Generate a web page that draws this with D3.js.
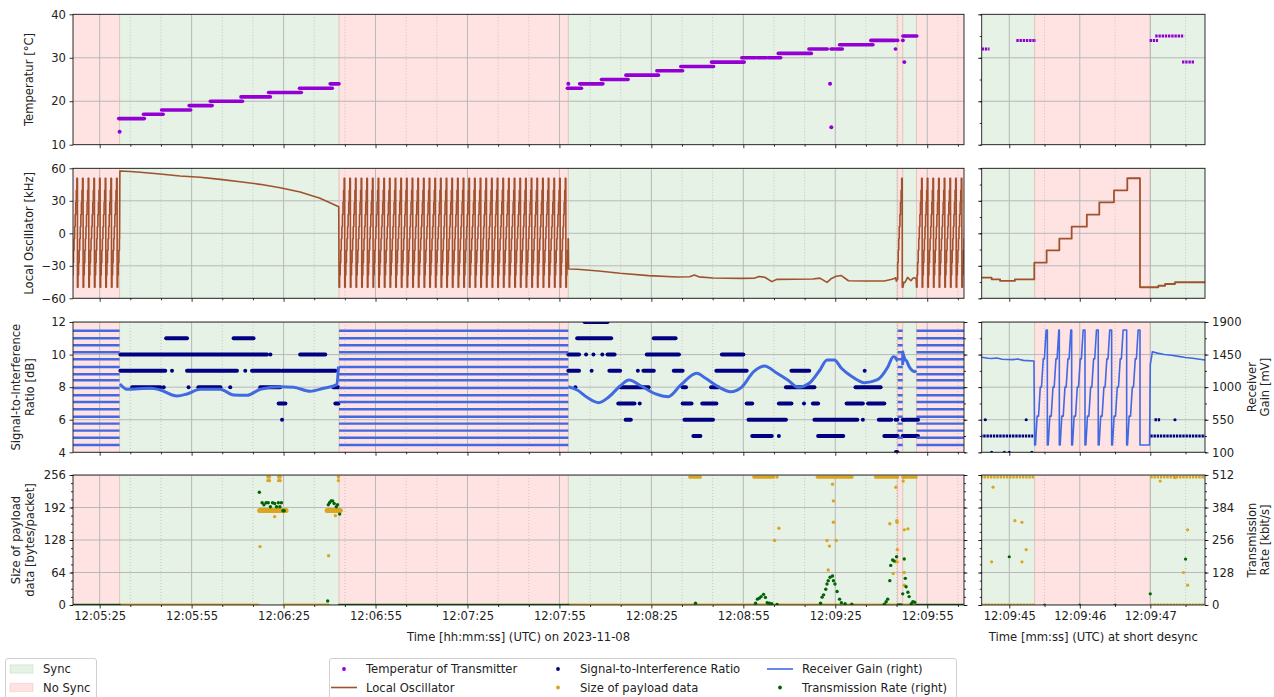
<!DOCTYPE html>
<html>
<head>
<meta charset="utf-8">
<script src="https://cdn.jsdelivr.net/npm/d3@7"></script>
<style>
  html, body { margin: 0; background: #fff; }
  svg { display: block; font-family: "DejaVu Sans", sans-serif; }
</style>
</head>
<body>
<svg id="chart" width="1274" height="697"></svg>
<script>
// ---------------------------------------------------------------------------
// Time base: main series are seconds after 12:05:00 UTC on 2023-11-08,
// zoom series are seconds after 12:09:45 UTC (285 s later).
// ---------------------------------------------------------------------------
const BASE_MS = Date.UTC(2023, 10, 8, 12, 5, 0);
const ZOOM_OFFSET = 285;

const mainRange = [16.3, 307.0];
const zoomRange = [-0.391, 2.776];
const mainTickLabels = ["12:05:25", "12:05:55", "12:06:25", "12:06:55", "12:07:25",
                        "12:07:55", "12:08:25", "12:08:55", "12:09:25", "12:09:55"];
const zoomTickLabels = ["12:09:45", "12:09:46", "12:09:47"];

const tempTicks = [10, 20, 30, 40];
const loTicks = [-60, -30, 0, 30, 60];
const sirTicks = [4, 6, 8, 10, 12];
const gainTicks = [100, 550, 1000, 1450, 1900];
const payloadTicks = [0, 64, 128, 192, 256];
const rateTicks = [0, 128, 256, 384, 512];

// Receiver synchronisation periods [start, end, synced]
const syncSpans = [
  [16.3, 31.5, false], [31.5, 103.1, true], [103.1, 177.9, false],
  [177.9, 285.36, true], [285.36, 287.0, false], [287.0, 291.5, true],
  [291.5, 307.0, false]
];

// Transmitter temperature: runs of identical readings [start, end, °C] and single readings
const tempRuns = [
  [31.2, 39.6, 16], [39.3, 45.7, 17], [45.2, 54.7, 18], [54.2, 61.7, 19], [61.1, 71.6, 20],
  [71.1, 80.7, 21], [80.1, 90.8, 22], [90.2, 100.9, 23], [100.2, 103.1, 24],
  [177.6, 182.2, 23], [181.6, 189.2, 24], [188.7, 197.4, 25], [196.7, 207.3, 26],
  [206.8, 215.2, 27], [214.6, 225.3, 28], [224.6, 235.3, 29],
  [234.5, 239.0, 30], [239.6, 242.5, 30], [243.1, 247.2, 30],
  [246.4, 257.2, 31], [256.4, 262.4, 32], [263.6, 264.6, 32], [265.3, 267.3, 32],
  [266.4, 277.3, 33], [276.6, 284.5, 34],
  [284.61, 284.72, 32], [285.10, 285.38, 34], [286.99, 287.11, 34],
  [287.07, 287.48, 35], [287.45, 287.62, 29], [287.8, 291.6, 35]
];
const tempDots = [[31.5, 13], [177.9, 24], [263.3, 24], [263.7, 14]];

// Local oscillator offset [s, kHz] while synced (linear between readings)
const loTrackA = [
  [31.6, 57.5], [34.9, 57.0], [38.2, 56.3], [44.7, 54.7], [51.2, 52.9], [57.8, 51.7],
  [64.3, 49.8], [70.8, 47.6], [77.3, 45.2], [83.9, 42.1], [90.4, 38.1], [96.9, 32.3],
  [103.0, 24.6]
];
const loTrackB = [
  [178.0, -33.0], [180.8, -33.2], [187.8, -34.8], [194.8, -36.9], [204.1, -39.1],
  [213.4, -40.3], [217.5, -40.1], [219.0, -38.6], [220.5, -40.2], [225.1, -41.3],
  [234.4, -41.6], [238.5, -41.5], [240.2, -39.8], [242.0, -40.6], [244.3, -44.6],
  [246.0, -42.5], [257.7, -42.2], [260.0, -41.4], [262.3, -45.3], [263.6, -42.0],
  [265.3, -39.7], [267.0, -39.0], [269.3, -43.8], [275.1, -44.0], [281.0, -44.0],
  [283.5, -42.5], [284.5, -41.5]
];
// Step readings around the short desync [s after 12:09:45, kHz], held until the next one
const loStepsZoom = [
  [-0.39, -41.0], [-0.25, -42.5], [-0.13, -44.0], [0.08, -42.5], [0.355, -27.1],
  [0.53, -15.7], [0.71, -5.0], [0.885, 6.1], [1.10, 17.2], [1.277, 28.6],
  [1.485, 39.7], [1.674, 50.8], [1.854, -49.8], [2.114, -48.4], [2.21, -46.8],
  [2.35, -45.2], [2.78, -45.2]
];
const loTrackC = [[288.6, -40.7], [289.7, -43.8], [290.3, -41.5], [290.9, -41.0], [291.4, -42.0]];
// Frequency search while unsynced: levels stepped through in order, one level per step
const loSweepLevels = [-49.8, -38.6, -27.1, -15.7, -5.0, 6.1, 17.2, 28.6, 39.7, 50.8];
const loSweepStep = 0.185;
const loSweepStarts = [15.9, 103.1, 291.5];

// Signal-to-interference ratio: runs [start, end, dB] and single readings [s, dB]
const sirRuns = [
  [46.7, 53.5, 11], [68.7, 75.2, 11],
  [31.75, 79.6, 10], [90.4, 98.6, 10],
  [31.75, 46.4, 9], [53.5, 69.8, 9], [74.7, 83.9, 9], [84.5, 101.9, 9],
  [35.6, 44.8, 8], [57.2, 64.4, 8], [77.4, 83.9, 8], [101.2, 102.8, 8],
  [83.4, 85.6, 7], [101.9, 102.9, 7],
  [183.2, 190.7, 12],
  [180.8, 191.9, 11], [205.8, 212.9, 11],
  [177.9, 181.4, 10], [190.7, 193.0, 10], [203.5, 214.0, 10], [228.0, 235.0, 10],
  [177.9, 181.4, 9], [191.3, 194.8, 9], [202.4, 205.8, 9], [212.3, 215.2, 9],
  [226.2, 236.1, 9], [250.7, 256.5, 9],
  [194.8, 204.1, 8], [215.2, 216.3, 8], [224.5, 226.8, 8], [248.9, 258.2, 8], [271.6, 279.8, 8],
  [194.2, 199.5, 7], [215.2, 218.1, 7], [221.6, 226.2, 7], [236.1, 237.9, 7], [246.6, 250.7, 7],
  [257.7, 259.4, 7], [268.7, 274.0, 7], [275.7, 281.0, 7],
  [196.6, 198.3, 6], [215.8, 225.1, 6], [236.7, 248.9, 6], [258.2, 272.2, 6],
  [279.2, 283.3, 6], [287.06, 287.14, 6], [287.8, 292.0, 6],
  [218.7, 221.0, 5], [237.9, 244.3, 5], [259.4, 267.6, 5], [281.0, 285.34, 5], [287.0, 292.0, 5]
];
const sirDots = [
  [80.7, 10], [48.6, 9], [72.5, 9], [45.9, 8], [54.0, 8], [67.6, 8], [84.5, 6],
  [183.7, 10], [186.1, 10], [189.0, 10], [185.5, 9], [200.6, 9], [274.6, 9], [180.2, 8],
  [201.2, 7], [254.8, 7], [274.0, 6], [246.6, 5],
  [284.66, 6], [285.24, 6], [287.35, 6], [284.75, 4], [284.93, 4], [285.0, 4], [285.32, 4]
];

// Receiver gain [s, mV] while synced
const gainTrackA = [
  [31.6, 1044], [33.9, 971], [41.5, 984], [44.8, 961], [50.2, 878], [53.5, 906], [57.8, 971],
  [64.3, 971], [68.7, 892], [73.1, 888], [77.4, 971], [83.9, 1006], [88.3, 998], [93.7, 943],
  [98.0, 984], [102.4, 1034], [102.9, 1283]
];
const gainTrackB = [
  [177.9, 1006], [180.8, 961], [184.0, 860], [187.8, 786], [191.0, 860], [194.8, 1016],
  [197.7, 1099], [201.7, 1016], [206.4, 906], [210.5, 868], [214.6, 1030], [219.8, 1192],
  [222.7, 1122], [226.8, 1006], [230.9, 937], [234.4, 998], [238.4, 1214], [241.9, 1292],
  [246.0, 1192], [249.5, 1099], [253.0, 998], [256.5, 1053], [260.0, 1237], [262.3, 1375],
  [264.7, 1375], [267.0, 1261], [270.5, 1145], [274.6, 1062], [278.6, 1099], [282.2, 1283],
  [283.9, 1421]
];
const gainTrackC = [[288.0, 1375], [289.1, 1283], [290.9, 1214], [291.4, 1230]];
// Around the short desync [s after 12:09:45, mV]
const gainZoomBefore = [[-0.39, 1412], [-0.3, 1400], [-0.25, 1395], [-0.18, 1402], [-0.1, 1385],
                        [0.05, 1380], [0.12, 1390], [0.2, 1370], [0.35, 1361]];
const gainToothDrops = [0.36, 0.54, 0.71, 0.885, 1.074, 1.262, 1.452, 1.665, 1.854];
const gainToothShape = [[0, 201], [0.012, 201], [0.035, 600], [0.055, 600], [0.08, 1000],
                        [0.097, 1000], [0.122, 1390], [0.138, 1390], [0.163, 1790]];
const gainZoomAfter = [[1.854, 201], [1.99, 201], [2.0, 1306], [2.03, 1490], [2.1, 1470],
                       [2.2, 1450], [2.3, 1440], [2.4, 1425], [2.5, 1410], [2.6, 1400],
                       [2.7, 1385], [2.776, 1375]];
// Gain search levels visited while unsynced [mV]
const gainSweepLevels = [201, 302, 399, 496, 592, 694, 795, 888, 989, 1095, 1178,
                         1279, 1385, 1482, 1578, 1675, 1780];

// Payload size: runs [start, end, bytes] and single packets [s, bytes]
const payloadRuns = [
  [31.6, 76.7, 0], [85.0, 99.6, 0], [177.9, 285.36, 0], [287.0, 291.5, 0],
  [77.2, 85.8, 186], [99.2, 103.5, 186],
  [217.5, 221.0, 252], [238.4, 244.9, 252], [259.1, 270.5, 252], [278.1, 285.36, 252], [287.0, 291.4, 252]
];
const payloadDots = [
  [79.9, 252], [79.9, 245], [80.4, 252], [80.4, 245], [83.4, 252], [83.4, 245],
  [83.9, 252], [83.9, 245], [102.9, 252], [102.9, 245],
  [77.3, 115], [82.1, 174], [99.7, 97], [101.9, 176],
  [246.0, 252], [246.6, 151], [245.2, 127], [264.1, 238], [264.4, 205], [264.4, 163],
  [262.3, 127], [265.3, 127], [263.1, 116], [262.7, 69],
  [282.8, 160], [283.9, 62], [288.7, 150],
  [284.75, 85], [284.77, 232], [285.08, 166], [285.18, 163], [285.18, 85], [285.24, 109],
  [287.14, 244], [287.35, 251], [287.47, 64], [287.53, 148], [287.53, 39]
];

// Transmission rate [s, kbit/s]
const rateDots = [
  [77.1, 444], [78.0, 403], [78.6, 395], [79.3, 403], [80.0, 403], [80.7, 387], [81.4, 403],
  [82.1, 400], [82.7, 387], [83.3, 403], [83.8, 387], [84.3, 403], [84.8, 371], [85.2, 371],
  [99.4, 16], [99.6, 395], [100.0, 403], [100.5, 410], [101.0, 410], [101.5, 400], [102.2, 387],
  [102.6, 395], [103.3, 358],
  [219.4, 7], [239.0, 7], [239.6, 23], [240.2, 27], [240.8, 33], [241.6, 42], [242.2, 30],
  [242.8, 9], [243.5, 7], [244.3, 5], [246.0, 2],
  [260.2, 7], [260.7, 31], [261.2, 40], [261.9, 62], [262.3, 83], [262.7, 96], [263.3, 109],
  [264.1, 114], [264.4, 96], [264.9, 83], [265.6, 53], [266.4, 23], [267.0, 9], [268.2, 5], [270.4, 3],
  [281.0, 3], [281.6, 13], [282.1, 23], [282.8, 96], [283.1, 156], [283.7, 177], [284.2, 173],
  [285.0, 190], [285.5, 0], [286.0, 0], [286.5, 0], [287.0, 44], [287.5, 181],
  [287.85, 105], [288.1, 72], [288.7, 50], [289.1, 33], [289.8, 5], [290.3, 13], [290.9, 11]
];
const rateZeroRuns = [[16.3, 31.5], [103.1, 177.9], [291.5, 307.0]];

// ---------------------------------------------------------------------------
// Derived series
// ---------------------------------------------------------------------------
const zoomed = arr => arr.map(([u, ...rest]) => [u + ZOOM_OFFSET, ...rest]);
function holdSteps(steps) {
  const out = [];
  steps.forEach((p, i) => {
    out.push(p);
    if (i < steps.length - 1) out.push([steps[i + 1][0], p[1]]);
  });
  return out;
}
function sweep(start, from, to) {
  const pts = [];
  for (let t = start, i = 0; t < to; t += loSweepStep, i++) {
    const v = loSweepLevels[i % loSweepLevels.length];
    const a = Math.max(t, from), b = Math.min(t + loSweepStep, to);
    if (b > a) pts.push([a, v], [b, v]);
  }
  return pts;
}
const loSeries = [
  ...sweep(loSweepStarts[0], 15.9, 31.5),
  ...loTrackA,
  ...sweep(loSweepStarts[1], 103.1, 177.9),
  ...loTrackB,
  ...holdSteps(zoomed(loStepsZoom)),
  ...loTrackC,
  ...sweep(loSweepStarts[2], 291.5, 307.5)
];

const gainTeeth = [];
for (let k = 0; k < gainToothDrops.length - 1; k++) {
  const d = gainToothDrops[k], next = gainToothDrops[k + 1];
  gainToothShape.forEach(([off, v]) => gainTeeth.push([d + off, v]));
  gainTeeth.push([next, gainToothShape[gainToothShape.length - 1][1]]);
}
const gainZoomSeries = zoomed([...gainZoomBefore, ...gainTeeth, ...gainZoomAfter]);
const gainSeries = [...gainTrackA, ...gainTrackB, ...gainZoomSeries, ...gainTrackC];
const isSynced = t => syncSpans.some(s => s[2] && t >= s[0] && t < s[1]);
const noSyncSpans = syncSpans.filter(s => !s[2]);
const gainMainSeries = [...gainSeries, ...noSyncSpans.map(s => [(s[0] + s[1]) / 2, NaN])]
  .sort((a, b) => a[0] - b[0]);

// ---------------------------------------------------------------------------
// Layout and scales
// ---------------------------------------------------------------------------
const FONT = 11.6;
const C = { temp: "#9400d3", lo: "#a0522d", sir: "#000080", payload: "#daa520",
            gain: "#4169e1", rate: "#006400" };
const SYNC_FILL = "rgba(0,128,0,0.10)", NOSYNC_FILL = "rgba(255,0,0,0.11)";

const at = s => new Date(BASE_MS + s * 1000);
const hms = str => {
  const [h, m, s] = str.split(":").map(Number);
  return (Date.UTC(2023, 10, 8, h, m, s) - BASE_MS) / 1000;
};

const rowY = [[14.3, 144.7], [168.3, 298.3], [322, 452.3], [475, 605]];
const xMain = d3.scaleUtc().domain(mainRange.map(at)).range([73, 964]);
const xZoom = d3.scaleUtc().domain(zoomRange.map(u => at(u + ZOOM_OFFSET))).range([981.7, 1205]);

const yLeft = [
  d3.scaleLinear().domain([10, 40]),
  d3.scaleLinear().domain([-60, 60]),
  d3.scaleLinear().domain([4, 12]),
  d3.scaleLinear().domain([0, 256])
].map((s, i) => s.range([rowY[i][1], rowY[i][0]]));
const yGain = d3.scaleLinear().domain([100, 1900]).range([rowY[2][1], rowY[2][0]]);
const yRate = d3.scaleLinear().domain([0, 512]).range([rowY[3][1], rowY[3][0]]);

const mainMajor = mainTickLabels.map(hms);
const mainMinor = d3.range(mainMajor[0] - 20, mainRange[1], 10)
  .filter(s => s > mainRange[0] && !mainMajor.includes(s));
const zoomMajor = zoomTickLabels.map(hms);
const zoomMinor = d3.range(zoomMajor[0] - 0.5, zoomRange[1] + ZOOM_OFFSET, 1)
  .filter(s => s > zoomRange[0] + ZOOM_OFFSET);

const svg = d3.select("#chart");
const defs = svg.append("defs");

// ---------------------------------------------------------------------------
// Mark helpers
// ---------------------------------------------------------------------------
function drawRuns(g, data, x, y, color, width, dashed) {
  g.append("g").selectAll("line").data(data).join("line")
    .attr("x1", d => x(at(d[0]))).attr("x2", d => x(at(d[1])))
    .attr("y1", d => y(d[2])).attr("y2", d => y(d[2]))
    .attr("stroke", color).attr("stroke-width", width)
    .attr("stroke-linecap", dashed ? "butt" : "round")
    .attr("stroke-dasharray", dashed ? "2.4,0.8" : null);
}
function drawDots(g, data, x, y, color, r) {
  g.append("g").selectAll("circle").data(data).join("circle")
    .attr("cx", d => x(at(d[0]))).attr("cy", d => y(d[1]))
    .attr("r", r).attr("fill", color);
}
function drawPath(g, data, x, y, color, width, curve, defined) {
  const line = d3.line().x(d => x(at(d[0]))).y(d => y(d[1])).curve(curve || d3.curveLinear);
  if (defined) line.defined(defined);
  g.append("path").datum(data).attr("d", line)
    .attr("fill", "none").attr("stroke", color).attr("stroke-width", width)
    .attr("stroke-linejoin", "round");
}
function styleAxis(g) {
  g.attr("font-family", "DejaVu Sans").attr("font-size", FONT);
  g.select(".domain").remove();
  g.selectAll(".tick line").attr("stroke", "#000").attr("stroke-width", 0.8);
  g.selectAll(".tick text").attr("fill", "#222");
  return g;
}
function axisY(kind, scale, xPos, majors, minors, labeled) {
  const gen = kind === "left" ? d3.axisLeft : d3.axisRight;
  if (minors && minors.length) {
    styleAxis(svg.append("g").attr("transform", `translate(${xPos},0)`)
      .call(gen(scale).tickValues(minors).tickSize(2).tickSizeOuter(0).tickFormat(() => "")));
  }
  styleAxis(svg.append("g").attr("transform", `translate(${xPos},0)`)
    .call(gen(scale).tickValues(majors).tickSize(3.5).tickPadding(3.5).tickSizeOuter(0)
      .tickFormat(labeled ? d3.format("d") : () => "")));
}
function axisX(x, yPos, majors, minors, labeled) {
  styleAxis(svg.append("g").attr("transform", `translate(0,${yPos})`)
    .call(d3.axisBottom(x).tickValues(minors.map(at)).tickSize(2).tickSizeOuter(0).tickFormat(() => "")));
  styleAxis(svg.append("g").attr("transform", `translate(0,${yPos})`)
    .call(d3.axisBottom(x).tickValues(majors.map(at)).tickSize(3.5).tickPadding(3.5).tickSizeOuter(0)
      .tickFormat(labeled ? d3.utcFormat("%H:%M:%S") : () => "")));
}

// ---------------------------------------------------------------------------
// Panels: main overview (left) and short-desync zoom (right)
// ---------------------------------------------------------------------------
const panels = [
  { key: "main", x: xMain, majors: mainMajor, minors: mainMinor, isMain: true },
  { key: "zoom", x: xZoom, majors: zoomMajor, minors: zoomMinor, isMain: false }
];
const yMajors = [tempTicks, loTicks, sirTicks, payloadTicks];

panels.forEach(p => {
  const x = p.x, [x0, x1] = x.range();
  rowY.forEach(([y0, y1], r) => {
    const id = `clip-${p.key}-${r}`;
    defs.append("clipPath").attr("id", id).append("rect")
      .attr("x", x0).attr("y", y0).attr("width", x1 - x0).attr("height", y1 - y0);
    const body = svg.append("g").attr("clip-path", `url(#${id})`);
    const y = yLeft[r];

    // sync / no-sync shading
    body.append("g").selectAll("rect").data(syncSpans).join("rect")
      .attr("x", d => x(at(d[0]))).attr("width", d => Math.max(0, x(at(d[1])) - x(at(d[0]))))
      .attr("y", y0).attr("height", y1 - y0)
      .attr("fill", d => d[2] ? SYNC_FILL : NOSYNC_FILL)
      .attr("stroke", d => d[2] ? SYNC_FILL : NOSYNC_FILL).attr("stroke-width", 1);

    // grid
    const grid = body.append("g");
    grid.selectAll(".vmin").data(p.minors).join("line").attr("class", "vmin")
      .attr("x1", d => x(at(d))).attr("x2", d => x(at(d))).attr("y1", y0).attr("y2", y1)
      .attr("stroke", "#bdbdbd").attr("stroke-width", 0.8).attr("stroke-dasharray", "1,2");
    grid.selectAll(".vmaj").data(p.majors).join("line").attr("class", "vmaj")
      .attr("x1", d => x(at(d))).attr("x2", d => x(at(d))).attr("y1", y0).attr("y2", y1)
      .attr("stroke", "#b8b8b8").attr("stroke-width", 1);
    grid.selectAll(".hmaj").data(yMajors[r]).join("line").attr("class", "hmaj")
      .attr("x1", x0).attr("x2", x1).attr("y1", d => y(d)).attr("y2", d => y(d))
      .attr("stroke", "#b8b8b8").attr("stroke-width", 1);

    const m = p.isMain;
    if (r === 0) {
      drawRuns(body, tempRuns, x, y, C.temp, m ? 3.6 : 3, !m);
      drawDots(body, tempDots, x, y, C.temp, 2);
    } else if (r === 1) {
      drawPath(body, loSeries, x, y, C.lo, m ? 1.6 : 1.8);
    } else if (r === 2) {
      drawRuns(body, sirRuns, x, y, C.sir, m ? 4 : 3, !m);
      drawDots(body, sirDots, x, y, C.sir, m ? 2 : 1.6);
      if (m) {
        const stripes = [];
        noSyncSpans.forEach(s => gainSweepLevels.forEach(v => stripes.push([s[0], s[1], v])));
        body.append("g").selectAll("line").data(stripes).join("line")
          .attr("x1", d => x(at(d[0]))).attr("x2", d => x(at(d[1])))
          .attr("y1", d => yGain(d[2])).attr("y2", d => yGain(d[2]))
          .attr("stroke", C.gain).attr("stroke-width", 2.4);
        drawPath(body, gainMainSeries, x, yGain, C.gain, 3, d3.curveMonotoneX,
          d => !isNaN(d[1]) && isSynced(d[0]));
      } else {
        drawPath(body, gainSeries, x, yGain, C.gain, 1.6);
      }
    } else {
      drawRuns(body, payloadRuns.filter(d => d[2] === 186), x, y, C.payload, 5, false);
      drawRuns(body, payloadRuns.filter(d => d[2] !== 186), x, y, C.payload, m ? 3.2 : 3, !m);
      drawDots(body, payloadDots, x, y, C.payload, m ? 1.7 : 1.6);
      if (m) drawRuns(body, rateZeroRuns.map(d => [d[0], d[1], 0]), x, yRate, C.rate, 2.6, false);
      drawDots(body, rateDots, x, yRate, C.rate, m ? 1.7 : 1.6);
    }

    // frame
    svg.append("rect").attr("x", x0).attr("y", y0).attr("width", x1 - x0).attr("height", y1 - y0)
      .attr("fill", "none").attr("stroke", "#1a1a1a").attr("stroke-width", 0.9);

    // axes
    axisX(x, y1, p.majors, p.minors, r === 3);
    const leftMinor = m
      ? [null, null, null, d3.range(0, 257, 16)][r]
      : [d3.range(10, 41, 5), d3.range(-60, 61, 15), d3.range(4, 12.1, 1), d3.range(0, 257, 16)][r];
    axisY("left", y, x0, yMajors[r], leftMinor, m);
    if (r === 2) axisY("right", yGain, x1, gainTicks, d3.range(100, 1901, 225), !m);
    if (r === 3) axisY("right", yRate, x1, rateTicks, d3.range(0, 513, 32), !m);
  });
});

// ---------------------------------------------------------------------------
// Axis titles
// ---------------------------------------------------------------------------
function vText(xBase, yMid, str) {
  svg.append("text").attr("transform", `translate(${xBase},${yMid}) rotate(-90)`)
    .attr("text-anchor", "middle").attr("font-size", FONT).attr("fill", "#222").text(str);
}
const rowMid = rowY.map(([a, b]) => (a + b) / 2);
vText(32.5, rowMid[0], "Temperatur [°C]");
vText(32.5, rowMid[1], "Local Oscillator [kHz]");
vText(20, rowMid[2], "Signal-to-Interference");
vText(33.5, rowMid[2], "Ratio [dB]");
vText(20, rowMid[3], "Size of payload");
vText(33.5, rowMid[3], "data [bytes/packet]");
vText(1255.5, rowMid[2], "Receiver");
vText(1269, rowMid[2], "Gain [mV]");
vText(1255.5, rowMid[3], "Transmission");
vText(1269, rowMid[3], "Rate [kbit/s]");

svg.append("text").attr("x", (73 + 964) / 2).attr("y", 640.5).attr("text-anchor", "middle")
  .attr("font-size", FONT).attr("fill", "#222").text("Time [hh:mm:ss] (UTC) on 2023-11-08");
svg.append("text").attr("x", (981.7 + 1205) / 2).attr("y", 640.5).attr("text-anchor", "middle")
  .attr("font-size", FONT).attr("fill", "#222").text("Time [mm:ss] (UTC) at short desync");

// ---------------------------------------------------------------------------
// Legends
// ---------------------------------------------------------------------------
const lg = svg.append("g").attr("font-size", FONT).attr("fill", "#222");
lg.append("rect").attr("x", 5.5).attr("y", 658.5).attr("width", 91).attr("height", 50)
  .attr("rx", 2.5).attr("fill", "#fff").attr("stroke", "#d0d0d0");
[["Sync", SYNC_FILL, 669], ["No Sync", NOSYNC_FILL, 687.5]].forEach(([label, fill, yy]) => {
  lg.append("rect").attr("x", 10).attr("y", yy - 4.2).attr("width", 23).attr("height", 8.4)
    .attr("fill", fill).attr("stroke", fill);
  lg.append("text").attr("x", 43).attr("y", yy).attr("dy", "0.35em").text(label);
});

lg.append("rect").attr("x", 329.5).attr("y", 658.5).attr("width", 627).attr("height", 50)
  .attr("rx", 2.5).attr("fill", "#fff").attr("stroke", "#d0d0d0");
const legendEntries = [
  { label: "Temperatur of Transmitter", kind: "dot", color: C.temp, hx: 331, yy: 669 },
  { label: "Local Oscillator", kind: "line", color: C.lo, hx: 331, yy: 687.5 },
  { label: "Signal-to-Interference Ratio", kind: "dot", color: C.sir, hx: 545, yy: 669 },
  { label: "Size of payload data", kind: "dot", color: C.payload, hx: 545, yy: 687.5 },
  { label: "Receiver Gain (right)", kind: "line", color: C.gain, hx: 767, yy: 669 },
  { label: "Transmission Rate (right)", kind: "dot", color: C.rate, hx: 767, yy: 687.5 }
];
legendEntries.forEach(e => {
  if (e.kind === "dot") {
    lg.append("circle").attr("cx", e.hx + 13).attr("cy", e.yy).attr("r", 1.9).attr("fill", e.color);
  } else {
    lg.append("line").attr("x1", e.hx).attr("x2", e.hx + 26).attr("y1", e.yy).attr("y2", e.yy)
      .attr("stroke", e.color).attr("stroke-width", 1.6);
  }
  lg.append("text").attr("x", e.hx + 35).attr("y", e.yy).attr("dy", "0.35em").text(e.label);
});
</script>
</body>
</html>
